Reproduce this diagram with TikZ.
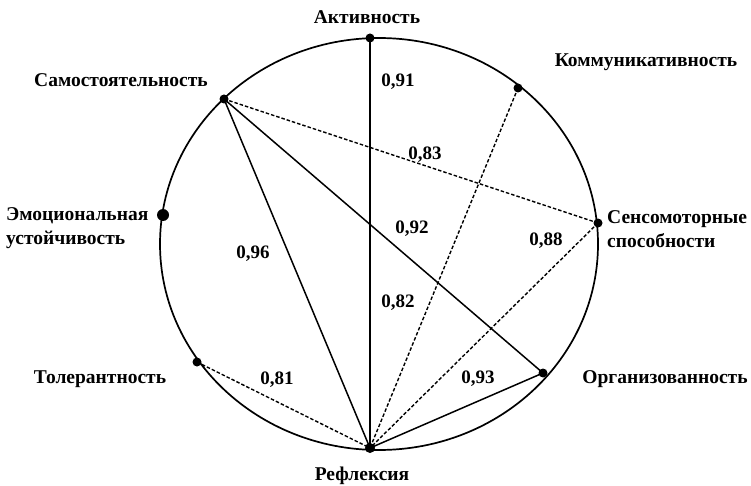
\documentclass[tikz,border=0pt]{standalone}
\usepackage{fontspec}
\setmainfont{Liberation Serif}
\begin{document}
\begin{tikzpicture}[x=1pt,y=-1pt,
  lbl/.style={font=\bfseries\fontsize{19.5}{24}\selectfont, inner sep=0pt, align=left},
  num/.style={font=\bfseries\fontsize{19}{22}\selectfont, inner sep=0pt},
  dot/.style={circle, fill=black, inner sep=0pt, minimum size=9pt},
  bigdot/.style={circle, fill=black, inner sep=0pt, minimum size=12pt},
  solidln/.style={line width=1.5pt},
  dashln/.style={line width=1.4pt, dash pattern=on 3.5pt off 2pt}]
\useasboundingbox (0,0) rectangle (751,486);
\draw[line width=1.7pt] (379,244) ellipse [x radius=219, y radius=206];
% dots
\node[dot] (akt) at (370,38) {};
\node[dot] (kom) at (518,88) {};
\node[dot] (sam) at (224,99) {};
\node[bigdot] (emo) at (163,215) {};
\node[dot] (sen) at (598,223) {};
\node[dot] (tol) at (197,362) {};
\node[dot] (org) at (543,373) {};
\node[dot, minimum size=10pt] (ref) at (370,448) {};
% connectors
\draw[solidln] (akt.center) -- (ref.center);
\draw[solidln] (sam.center) -- (ref.center);
\draw[solidln] (sam.center) -- (org.center);
\draw[solidln] (org.center) -- (ref.center);
\draw[dashln] (sam.center) -- (sen.center);
\draw[dashln] (kom.center) -- (ref.center);
\draw[dashln] (sen.center) -- (ref.center);
\draw[dashln] (tol.center) -- (ref.center);
% labels
\node[lbl] (lakt) at (367,17) {Активность};
\node[lbl] (lkom) at (646,62) {Коммуникативность};
\node[lbl] (lsam) at (121,80) {Самостоятельность};
\node[lbl, anchor=west] (lemo) at (6,228) {Эмоциональная\\устойчивость};
\node[lbl, anchor=west] (lsen) at (607,229) {Сенсомоторные\\способности};
\node[lbl] (ltol) at (100,379) {Толерантность};
\node[lbl] (lorg) at (665,379) {Организованность};
\node[lbl] (lref) at (362,476) {Рефлексия};
% numbers
\node[num] (n91) at (398,82) {0,91};
\node[num] (n83) at (425,155) {0,83};
\node[num] (n92) at (412,229) {0,92};
\node[num] (n96) at (253,254) {0,96};
\node[num] (n88) at (546,241) {0,88};
\node[num] (n82) at (398,303) {0,82};
\node[num] (n81) at (277,380) {0,81};
\node[num] (n93) at (478,379) {0,93};
\end{tikzpicture}
\end{document}
